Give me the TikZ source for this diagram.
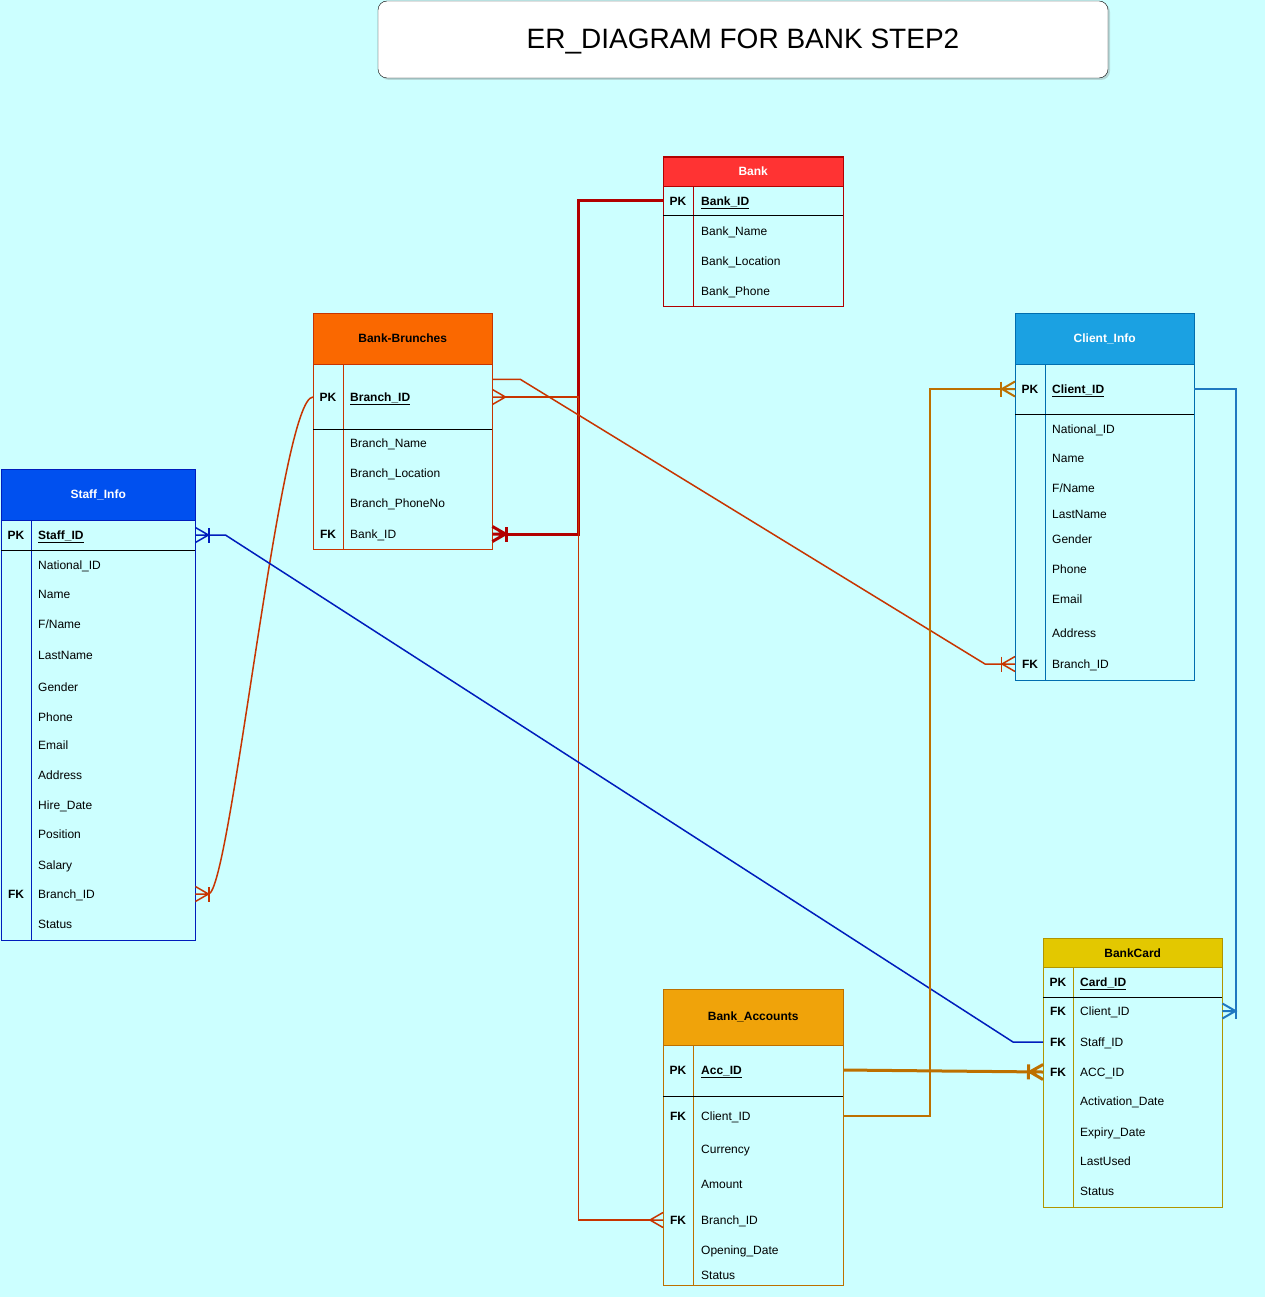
\documentclass[tikz,border=0pt]{standalone}
\usepackage{fontspec}
\setmainfont{Liberation Sans}
\usetikzlibrary{arrows.meta, calc, shadows}

\definecolor{sky}{HTML}{CCFFFF}
\definecolor{bankfill}{HTML}{FF3333}
\definecolor{bankline}{HTML}{B20000}
\definecolor{brnfill}{HTML}{FA6800}
\definecolor{brnline}{HTML}{C73500}
\definecolor{stffill}{HTML}{0050EF}
\definecolor{stfline}{HTML}{001DBC}
\definecolor{clifill}{HTML}{1BA1E2}
\definecolor{cliline}{HTML}{006EAF}
\definecolor{cliedge}{HTML}{1F78C0}
\definecolor{cardfill}{HTML}{E3C800}
\definecolor{cardline}{HTML}{B09500}
\definecolor{accfill}{HTML}{F0A30A}
\definecolor{accline}{HTML}{BD7000}

% crow's foot
\pgfdeclarearrow{
  name = Crow,
  parameters = {\the\pgfarrowlength,\the\pgfarrowwidth},
  setup code = {
    \pgfarrowssettipend{0pt}
    \pgfarrowssetlineend{-\pgfarrowlength}
    \pgfarrowssetbackend{-\pgfarrowlength}
    \pgfarrowshullpoint{-\pgfarrowlength}{0pt}
    \pgfarrowsupperhullpoint{0pt}{.5\pgfarrowwidth}
    \pgfarrowssavethe\pgfarrowlength
    \pgfarrowssavethe\pgfarrowwidth
  },
  drawing code = {
    \pgfpathmoveto{\pgfqpoint{0pt}{.5\pgfarrowwidth}}
    \pgfpathlineto{\pgfqpoint{-\pgfarrowlength}{0pt}}
    \pgfpathlineto{\pgfqpoint{0pt}{-.5\pgfarrowwidth}}
    \pgfpathmoveto{\pgfqpoint{-\pgfarrowlength}{0pt}}
    \pgfpathlineto{\pgfqpoint{0pt}{0pt}}
    \pgfusepathqstroke
  },
  defaults = {length = 13pt, width = 15pt}
}

\tikzstyle{link} = [draw, line width=1.5pt]
\tikzstyle{heavy link} = [link, line width=3pt]

\begin{document}
\begin{tikzpicture}[
		x=1pt, y=-1pt,
		every node/.style = {font=\fontsize{12}{14}\selectfont},
		head/.style = {draw, anchor=north west, inner sep=0pt, font=\fontsize{12}{14}\selectfont\bfseries},
		key/.style = {inner sep=0pt, text height=10.5pt, text depth=2pt, font=\fontsize{12}{14}\selectfont\bfseries},
		field/.style = {anchor=west, inner sep=0pt, text height=10.5pt, text depth=2pt},
		pkfield/.style = {field, font=\fontsize{12}{14}\selectfont\bfseries},
		rule/.style = {line width=1pt},
		onemany/.style = {-{Bar[width=15pt] Crow[]}},
		manyone/.style = {{Crow[] Bar[width=15pt]}-}
	]
	\fill[sky] (0,0) rectangle (1265,1297);
	\useasboundingbox (0,0) rectangle (1265,1297);

	\node[draw, fill=white, rounded corners=9pt, minimum width=730pt, minimum height=77pt,
		font=\fontsize{28}{32}\selectfont, text height=20pt, text depth=2pt,
		drop shadow={opacity=0.3, shadow xshift=2pt, shadow yshift=-2pt}] (title) at (743,39.5) {ER\_DIAGRAM FOR BANK STEP2};

	% Bank
	\draw[bankline, rule] (663,157) rectangle (843,306);
	\node[head, fill=bankfill, draw=bankline, text=white, minimum width=180pt, minimum height=29pt] (bk) at (663,157) {Bank};
	\draw[bankline, rule] (693,186) -- (693,306);
	\draw[rule] (663,216) -- (843,216);
	\node[key] (bk-pk) at (678,201) {PK};
	\node[pkfield] (bk-id) at (701,201) {\underline{Bank\_ID}};
	\foreach \y/\t in {231/Bank\_Name, 261/Bank\_Location, 291/Bank\_Phone}
		\node[field] (bk-\y) at (701,\y) {\t};

	% Bank-Brunches
	\draw[brnline, rule] (313,313) rectangle (492,549);
	\node[head, fill=brnfill, draw=brnline, minimum width=179pt, minimum height=51pt] (brn) at (313,313) {Bank-Brunches};
	\draw[brnline, rule] (343,364) -- (343,549);
	\draw[rule] (313,429) -- (492,429);
	\node[key] (brn-pk) at (328,397) {PK};
	\node[pkfield] (brn-id) at (350,397) {\underline{Branch\_ID}};
	\foreach \y/\t in {443/Branch\_Name, 473/Branch\_Location, 503/Branch\_PhoneNo}
		\node[field] (brn-\y) at (350,\y) {\t};
	\node[key] (brn-fk) at (328,534) {FK};
	\node[field] (brn-bid) at (350,534) {Bank\_ID};

	% Staff_Info
	\draw[stfline, rule] (1,469) rectangle (195,940);
	\node[head, fill=stffill, draw=stfline, text=white, minimum width=194pt, minimum height=51pt] (stf) at (1,469) {Staff\_Info};
	\draw[stfline, rule] (31,520) -- (31,940);
	\draw[rule] (1,550) -- (195,550);
	\node[key] (stf-pk) at (16,535) {PK};
	\node[pkfield] (stf-id) at (38,535) {\underline{Staff\_ID}};
	\foreach \y/\t in {565/National\_ID, 594/Name, 624/{F/Name}, 655/LastName, 687/Gender, 717/Phone,
		745/Email, 775/Address, 805/Hire\_Date, 834/Position, 865/Salary, 924/Status}
		\node[field] (stf-\y) at (38,\y) {\t};
	\node[key] (stf-fk) at (16,894) {FK};
	\node[field] (stf-bid) at (38,894) {Branch\_ID};

	% Client_Info
	\draw[cliline, rule] (1015,313) rectangle (1194,680);
	\node[head, fill=clifill, draw=cliline, text=white, minimum width=179pt, minimum height=51pt] (cli) at (1015,313) {Client\_Info};
	\draw[cliline, rule] (1045,364) -- (1045,680);
	\draw[rule] (1015,414) -- (1194,414);
	\node[key] (cli-pk) at (1030,389) {PK};
	\node[pkfield] (cli-id) at (1052,389) {\underline{Client\_ID}};
	\foreach \y/\t in {429/National\_ID, 458/Name, 488/{F/Name}, 514/LastName, 539/Gender, 569/Phone,
		599/Email, 633/Address}
		\node[field] (cli-\y) at (1052,\y) {\t};
	\node[key] (cli-fk) at (1030,664) {FK};
	\node[field] (cli-bid) at (1052,664) {Branch\_ID};

	% BankCard
	\draw[cardline, rule] (1043,938) rectangle (1222,1207);
	\node[head, fill=cardfill, draw=cardline, minimum width=179pt, minimum height=29pt] (card) at (1043,938) {BankCard};
	\draw[cardline, rule] (1073,967) -- (1073,1207);
	\draw[rule] (1043,997) -- (1222,997);
	\node[key] (card-pk) at (1058,982) {PK};
	\node[pkfield] (card-id) at (1080,982) {\underline{Card\_ID}};
	\node[key] (card-fk1) at (1058,1011) {FK};
	\node[field] (card-cid) at (1080,1011) {Client\_ID};
	\node[key] (card-fk2) at (1058,1042) {FK};
	\node[field] (card-sid) at (1080,1042) {Staff\_ID};
	\node[key] (card-fk3) at (1058,1072) {FK};
	\node[field] (card-aid) at (1080,1072) {ACC\_ID};
	\foreach \y/\t in {1101/Activation\_Date, 1132/Expiry\_Date, 1161/LastUsed, 1191/Status}
		\node[field] (card-\y) at (1080,\y) {\t};

	% Bank_Accounts
	\draw[accline, rule] (663,989) rectangle (843,1285);
	\node[head, fill=accfill, draw=accline, minimum width=180pt, minimum height=56pt] (acc) at (663,989) {Bank\_Accounts};
	\draw[accline, rule] (693,1045) -- (693,1285);
	\draw[rule] (663,1096) -- (843,1096);
	\node[key] (acc-pk) at (678,1070) {PK};
	\node[pkfield] (acc-id) at (701,1070) {\underline{Acc\_ID}};
	\node[key] (acc-fk1) at (678,1116) {FK};
	\node[field] (acc-cid) at (701,1116) {Client\_ID};
	\node[key] (acc-fk2) at (678,1220) {FK};
	\node[field] (acc-bid) at (701,1220) {Branch\_ID};
	\foreach \y/\t in {1149/Currency, 1184/Amount, 1250/Opening\_Date, 1275/Status}
		\node[field] (acc-\y) at (701,\y) {\t};

	% relations
	\draw[heavy link, bankline, onemany] (bk.west |- bk-id) -- ++(-85,0) |- (brn.east |- brn-bid);
	\draw[link, brnline, {Crow[]}-{Crow[]}] (brn.east |- brn-id) -- ++(86,0) |- (acc.west |- acc-bid);
	\draw[link, brnline, onemany] ([yshift=-15pt]brn.south east) -- ++(28,0)
		-- ($(cli.west |- cli-bid)+(-30,0)$) -- (cli.west |- cli-bid);
	\draw[link, brnline, onemany] (brn.west |- brn-id) .. controls +(-33,0) and +(35,0) .. (stf.east |- stf-bid);
	\draw[link, stfline, manyone] (stf.east |- stf-id) -- ++(30,0)
		-- ($(card.west |- card-sid)+(-30,0)$) -- (card.west |- card-sid);
	\draw[link, line width=2pt, accline, onemany] (acc.east |- acc-cid) -- ++(87,0) |- (cli.west |- cli-id);
	\draw[link, line width=2pt, cliedge, onemany] (cli.east |- cli-id) -- ++(42,0) |- (card.east |- card-cid);
	\draw[heavy link, accline, onemany] (acc.east |- acc-id) -- (card.west |- card-aid);
\end{tikzpicture}
\end{document}
